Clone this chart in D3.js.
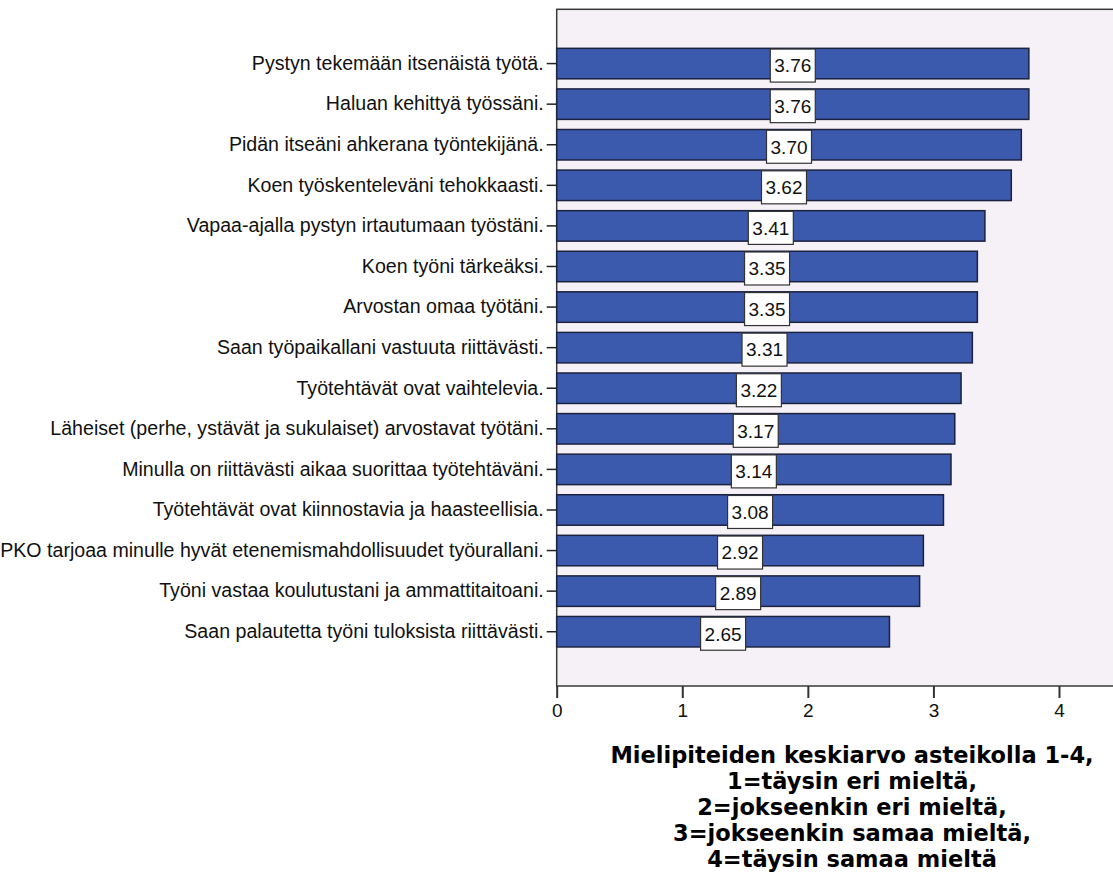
<!DOCTYPE html>
<html>
<head>
<meta charset="utf-8">
<script src="https://cdn.jsdelivr.net/npm/d3@7"></script>
<style>
 body { margin: 0; background: #fff; }
 svg { display: block; }
</style>
</head>
<body>
<div id="chart"></div>
<script>
var categories = [
  "Pystyn tekemään itsenäistä työtä.",
  "Haluan kehittyä työssäni.",
  "Pidän itseäni ahkerana työntekijänä.",
  "Koen työskenteleväni tehokkaasti.",
  "Vapaa-ajalla pystyn irtautumaan työstäni.",
  "Koen työni tärkeäksi.",
  "Arvostan omaa työtäni.",
  "Saan työpaikallani vastuuta riittävästi.",
  "Työtehtävät ovat vaihtelevia.",
  "Läheiset (perhe, ystävät ja sukulaiset) arvostavat työtäni.",
  "Minulla on riittävästi aikaa suorittaa työtehtäväni.",
  "Työtehtävät ovat kiinnostavia ja haasteellisia.",
  "PKO tarjoaa minulle hyvät etenemismahdollisuudet työurallani.",
  "Työni vastaa koulutustani ja ammattitaitoani.",
  "Saan palautetta työni tuloksista riittävästi."
];
var means = [3.76, 3.76, 3.70, 3.62, 3.41, 3.35, 3.35, 3.31, 3.22, 3.17, 3.14, 3.08, 2.92, 2.89, 2.65];
var xTicks = [0, 1, 2, 3, 4];
var titleLines = [
  "Mielipiteiden keskiarvo asteikolla 1-4,",
  "1=täysin eri mieltä,",
  "2=jokseenkin eri mieltä,",
  "3=jokseenkin samaa mieltä,",
  "4=täysin samaa mieltä"
];

var W = 1113, H = 872;
var plotL = 556.7, plotT = 9.3, plotB = 686, plotR = 1125;

var svg = d3.select('#chart').append('svg')
  .attr('width', W).attr('height', H);

var x = d3.scaleLinear().domain([0, 4]).range([plotL, 1059]);
var y = d3.scaleBand().domain(categories).range([plotT, plotB])
  .paddingInner(0.249).paddingOuter(0.962);

// plot background
svg.append('rect')
  .attr('x', plotL).attr('y', plotT)
  .attr('width', plotR - plotL).attr('height', plotB - plotT)
  .style('fill', '#f6f1f6').style('stroke', '#3a3a3a').style('stroke-width', 1.5);

// bars
svg.selectAll('rect.bar').data(means).enter().append('rect')
  .attr('class', 'bar')
  .attr('x', x(0))
  .attr('y', function(d, i) { return y(categories[i]); })
  .attr('width', function(d) { return x(d) - x(0); })
  .attr('height', y.bandwidth())
  .style('fill', '#3c5aad').style('stroke', '#1b2240').style('stroke-width', 1.5);

// value boxes
var lab = svg.selectAll('g.val').data(means).enter().append('g')
  .attr('class', 'val')
  .attr('transform', function(d, i) {
    return 'translate(' + x(d / 2) + ',' + (y(categories[i]) + y.bandwidth() / 2 + 2) + ')';
  });
lab.append('rect')
  .attr('x', -22.5).attr('y', -16.5).attr('width', 45).attr('height', 33)
  .style('fill', '#fff').style('stroke', '#333').style('stroke-width', 1.2);
lab.append('text')
  .attr('text-anchor', 'middle').attr('dy', '0.36em')
  .style('font-family', 'Liberation Sans, Arial, sans-serif')
  .style('font-size', '19px').style('fill', '#111')
  .text(function(d) { return d.toFixed(2); });

// y axis
var yAxis = svg.append('g')
  .attr('transform', 'translate(' + plotL + ',0)')
  .call(d3.axisLeft(y).tickSize(10).tickPadding(3));
yAxis.select('.domain').remove();
yAxis.selectAll('line').style('stroke', '#222').style('stroke-width', 1.5);
yAxis.selectAll('text')
  .style('font-family', 'Liberation Sans, Arial, sans-serif')
  .style('font-size', '19.6px').style('fill', '#111');

// x axis
var xAxis = svg.append('g')
  .attr('transform', 'translate(0,' + plotB + ')')
  .call(d3.axisBottom(x).tickValues(xTicks).tickFormat(d3.format('d')).tickSize(12).tickPadding(6));
xAxis.select('.domain').remove();
xAxis.selectAll('line').style('stroke', '#333').style('stroke-width', 2);
xAxis.selectAll('text')
  .style('font-family', 'Liberation Sans, Arial, sans-serif')
  .style('font-size', '19px').style('fill', '#111');

// axis title
svg.append('text')
  .attr('x', 852).attr('y', 763)
  .attr('text-anchor', 'middle')
  .style('font-family', 'DejaVu Sans, Verdana, sans-serif')
  .style('font-weight', 'bold').style('font-size', '22.5px').style('fill', '#000')
  .selectAll('tspan').data(titleLines).enter().append('tspan')
  .attr('x', 852).attr('dy', function(d, i) { return i ? 26 : 0; })
  .text(function(d) { return d; });
</script>
</body>
</html>
